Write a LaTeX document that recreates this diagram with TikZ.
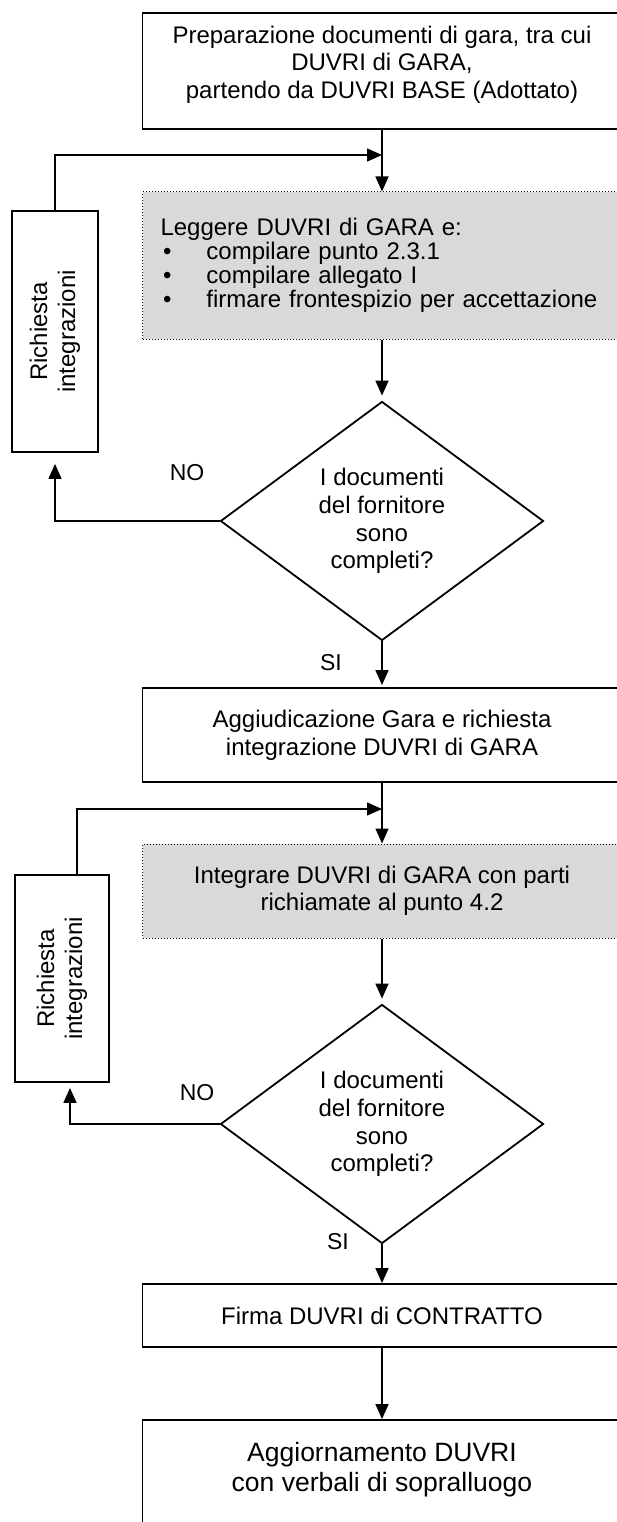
\documentclass[tikz,border=0pt]{standalone}
\usepackage{fontspec}
\setmainfont{Liberation Sans}
\usetikzlibrary{arrows.meta,shapes.geometric,calc}

\begin{document}
\begin{tikzpicture}[x=1pt,y=-1pt,
  box/.style={draw, line width=1.8pt, minimum width=479pt, inner sep=0pt,
    align=center, font=\fontsize{24pt}{28pt}\selectfont},
  shaded/.style={draw, fill=gray!30, line width=1pt, dash pattern=on 1pt off 2pt,
    minimum width=479pt, inner sep=0pt},
  choice/.style={draw, diamond, line width=1.8pt, aspect=1.35, inner sep=0pt,
    minimum width=323pt, minimum height=239pt, align=center,
    font=\fontsize{24pt}{27.7pt}\selectfont},
  request/.style={draw, line width=1.8pt, rotate=90, inner sep=0pt, align=center,
    font=\fontsize{24pt}{28pt}\selectfont},
  txt/.style={inner sep=0pt, align=center},
  lbl/.style={inner sep=0pt, font=\fontsize{23pt}{27pt}\selectfont},
  arr/.style={line width=1.4pt, -{Triangle[length=15pt,width=13pt]}}
]
\useasboundingbox (0,0) rectangle (617,1522);
\clip (0,0) rectangle (617,1522);

% start of the procedure
\node[box, minimum height=116pt] (top) at (382,71) {};
\node[txt, font=\fontsize{24pt}{27.5pt}\selectfont] (topT) at (382,64.5)
  {Preparazione documenti di gara, tra cui\\DUVRI di GARA,\\partendo da DUVRI BASE (Adottato)};

% supplier reads the tender DUVRI
\node[shaded, minimum height=147pt, text width=443pt, inner xsep=18pt, align=left,
  font=\fontsize{24pt}{24pt}\selectfont] (gray1) at (382,265.5)
  {Leggere DUVRI di GARA e:\\
   \makebox[46pt][l]{\hspace{2.5pt}•}compilare punto 2.3.1\\
   \makebox[46pt][l]{\hspace{2.5pt}•}compilare allegato I\\
   \makebox[46pt][l]{\hspace{2.5pt}•}firmare frontespizio per accettazione};

\node[request, minimum width=241pt, minimum height=86pt] (rich1) at (55,331.5)
  {Richiesta\\integrazioni};

\node[choice] (diam1) at (382,521) {I documenti\\del fornitore\\sono\\completi?};

\node[box, minimum height=94pt] (agg) at (382,735)
  {Aggiudicazione Gara e richiesta\\integrazione DUVRI di GARA};

% supplier completes the tender DUVRI
\node[shaded, minimum height=94pt, align=center,
  font=\fontsize{24pt}{27pt}\selectfont] (gray2) at (382,891)
  {Integrare DUVRI di GARA con parti\\richiamate al punto 4.2};

\node[request, minimum width=207pt, minimum height=94pt] (rich2) at (62,978.5)
  {Richiesta\\integrazioni};

\node[choice] (diam2) at (382,1124) {I documenti\\del fornitore\\sono\\completi?};

\node[box, minimum height=63pt] (firma) at (382,1315.5) {Firma DUVRI di CONTRATTO};

\node[box, minimum height=130pt] (last) at (382,1485) {};
\node[txt, font=\fontsize{26.5pt}{30pt}\selectfont] (lastT) at (382,1470)
  {Aggiornamento DUVRI\\con verbali di sopralluogo};

% labels of the decisions
\node[lbl] (no1) at (187,473) {NO};
\node[lbl] (si1) at (331,663) {SI};
\node[lbl] (no2) at (197,1093) {NO};
\node[lbl] (si2) at (338,1242) {SI};

% main flow
\draw[arr] (top.south) -- (gray1.north);
\draw[arr, shorten >=5pt] (gray1.south) -- (diam1.north);
\draw[arr, shorten >=2pt] (diam1.south) -- (agg.north);
\draw[arr] (agg.south) -- (gray2.north);
\draw[arr, shorten >=5pt] (gray2.south) -- (diam2.north);
\draw[arr] (diam2.south) -- (firma.north);
\draw[arr] (firma.south) -- (last.north);

% first loop back
\coordinate (m1) at (382,155);
\draw[arr] (rich1.east) |- (m1);
\draw[arr, shorten >=11pt] (diam1.west) -| (rich1.west);

% second loop back
\coordinate (m2) at (382,809);
\draw[arr] ($(rich2.east)+(15,0)$) |- (m2);
\draw[arr, shorten >=5pt] (diam2.west) -| ($(rich2.west)+(8,0)$);
\end{tikzpicture}
\end{document}
